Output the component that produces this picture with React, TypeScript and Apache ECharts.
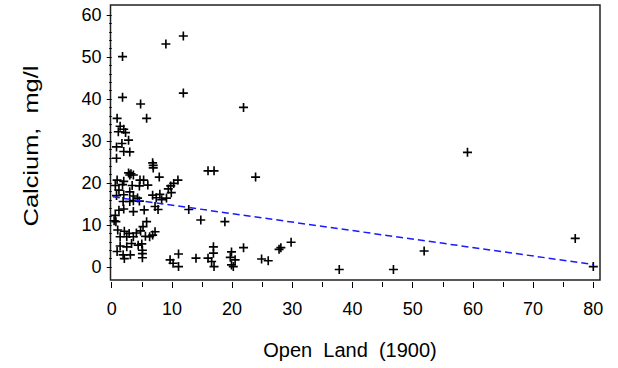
import React, { useEffect, useRef } from "react";
import * as echarts from "echarts";

// Open land in 1900 (%) and calcium (mg/l)
const openLand = [
  11.9, 9.0, 1.8, 1.8, 11.9, 4.8, 0.9, 5.8, 1.4, 2.0, 1.1, 2.3, 2.8, 1.7, 0.8, 2.0, 3.0, 0.8,
  6.8, 6.9, 6.9, 16.0, 17.0, 2.8, 3.2, 3.0, 3.6, 7.9, 23.9, 0.9, 2.0, 4.7, 5.3, 11.0, 10.3,
  0.6, 1.8, 3.4, 4.6, 6.0, 9.8, 9.4, 1.2, 3.0, 9.9, 0.8, 2.0, 3.6, 4.3, 6.8, 8.0, 7.4, 9.1,
  1.9, 3.0, 3.6, 4.6, 8.3, 7.2, 7.7, 12.8, 1.2, 2.0, 3.6, 5.4, 0.6, 14.8, 18.8, 0.4, 0.7,
  5.8, 5.2, 1.0, 2.1, 2.9, 4.1, 4.8, 6.8, 6.3, 7.2, 1.4, 2.5, 3.6, 5.6, 3.3, 4.4, 5.0, 1.4,
  2.5, 5.1, 0.9, 1.9, 3.1, 5.1, 5.1, 2.1, 11.1, 9.7, 10.2, 11.1, 14.0, 16.9, 16.9, 16.0,
  16.6, 17.0, 19.9, 19.7, 20.5, 19.9, 20.2, 21.9, 24.9, 26.0, 27.8, 28.1, 29.8, 21.9, 37.8,
  46.8, 51.9, 59.1, 77.0, 80.0,
];
const calcium = [
  55.0, 53.1, 50.1, 40.4, 41.4, 38.8, 35.4, 35.4, 33.5, 32.8, 32.2, 32.0, 30.2, 29.4, 28.6,
  27.5, 27.4, 25.9, 24.8, 24.2, 23.6, 22.9, 22.9, 22.4, 22.2, 21.9, 21.9, 21.4, 21.4, 20.7,
  20.4, 20.7, 20.7, 20.7, 19.9, 19.4, 19.6, 19.4, 19.3, 19.5, 19.3, 18.6, 18.3, 17.9, 17.7,
  17.0, 17.2, 16.9, 16.4, 17.1, 17.3, 16.5, 16.4, 15.6, 15.6, 15.8, 15.7, 16.0, 14.4, 13.7,
  13.7, 13.5, 13.8, 13.2, 13.6, 12.3, 11.2, 10.8, 11.0, 10.8, 10.8, 9.6, 8.8, 8.5, 8.0, 8.1,
  8.6, 7.6, 7.2, 8.4, 7.2, 7.2, 7.2, 7.3, 5.6, 5.2, 5.5, 5.0, 4.8, 4.0, 3.7, 2.9, 2.9, 3.2,
  2.2, 2.0, 3.1, 1.7, 0.9, 0.1, 2.1, 4.8, 3.3, 2.1, 1.3, 0.1, 3.6, 2.3, 1.7, 0.5, 0.1, 4.6,
  1.9, 1.5, 4.2, 4.6, 5.9, 38.0, -0.6, -0.6, 3.8, 27.3, 6.8, 0.1,
];
// Fitted line endpoints as drawn
const trendX = [0.2, 80];
const trendY = [16.7, 0.6];

const xTitle = "Open  Land  (1900)";
const yTitle = "Calcium,  mg/l";

const FONT = '"Liberation Sans", Arial, sans-serif';
const PLUS = "path://M4.5,0H6.5V4.5H11V6.5H6.5V11H4.5V6.5H0V4.5H4.5Z";

export default function App() {
  const ref = useRef<HTMLDivElement>(null);
  useEffect(() => {
    if (!ref.current) return;
    const chart = echarts.init(ref.current, undefined, { renderer: "svg" });
    const points = openLand.map((x, i) => [x, calcium[i]]);
    const trend = trendX.map((x, i) => [x, trendY[i]]);
    chart.setOption({
      animation: false,
      backgroundColor: "#fff",
      grid: { left: 111.7, top: 15, width: 481.6, height: 252, containLabel: false },
      xAxis: {
        type: "value",
        min: 0,
        max: 80,
        interval: 10,
        axisLine: { show: false },
        // ticks hang below the frame with a small gap: a long tick whose visible part is only its end
        axisTick: {
          show: true,
          length: 21,
          lineStyle: { color: "#000", width: 1, type: [6, 100], dashOffset: 91 },
        },
        minorTick: {
          show: true,
          splitNumber: 2,
          length: 20,
          lineStyle: { color: "#000", width: 1, type: [5, 100], dashOffset: 90 },
        },
        splitLine: { show: false },
        axisLabel: { margin: 33, color: "#000", fontSize: 18, fontFamily: FONT },
      },
      yAxis: {
        type: "value",
        min: 0,
        max: 60,
        interval: 10,
        offset: 1.2,
        axisLine: { show: false },
        axisTick: { show: true, length: 5, lineStyle: { color: "#000", width: 1 } },
        minorTick: { show: true, splitNumber: 5, length: 2.5, lineStyle: { color: "#000", width: 1 } },
        splitLine: { show: false },
        axisLabel: { margin: 9, color: "#000", fontSize: 18, fontFamily: FONT },
      },
      graphic: [
        {
          type: "rect",
          silent: true,
          shape: { x: 110.5, y: 5, width: 489.5, height: 275 },
          style: { fill: "none", stroke: "#222", lineWidth: 1.5 },
        },
        {
          type: "text",
          x: 350,
          y: 350,
          style: {
            text: xTitle,
            fill: "#000",
            fontSize: 20,
            fontFamily: FONT,
            align: "center",
            verticalAlign: "middle",
          },
        },
        {
          type: "text",
          x: 31,
          y: 146,
          rotation: Math.PI / 2,
          scaleX: 1.27,
          style: {
            text: yTitle,
            fill: "#000",
            fontSize: 20,
            fontFamily: FONT,
            align: "center",
            verticalAlign: "middle",
          },
        },
      ],
      series: [
        {
          type: "scatter",
          data: points,
          symbol: PLUS,
          symbolSize: 9,
          clip: false,
          itemStyle: { color: "#000", opacity: 1 },
          z: 3,
        },
        {
          type: "line",
          data: trend,
          showSymbol: false,
          symbol: "none",
          clip: false,
          lineStyle: { color: "#1a1aff", width: 1.5, type: [7, 4] },
          z: 4,
        },
      ],
    });
    return () => chart.dispose();
  }, []);
  return (
    <div
      ref={ref}
      style={{ position: "absolute", left: 0, top: 0, width: 618, height: 368 }}
    />
  );
}
